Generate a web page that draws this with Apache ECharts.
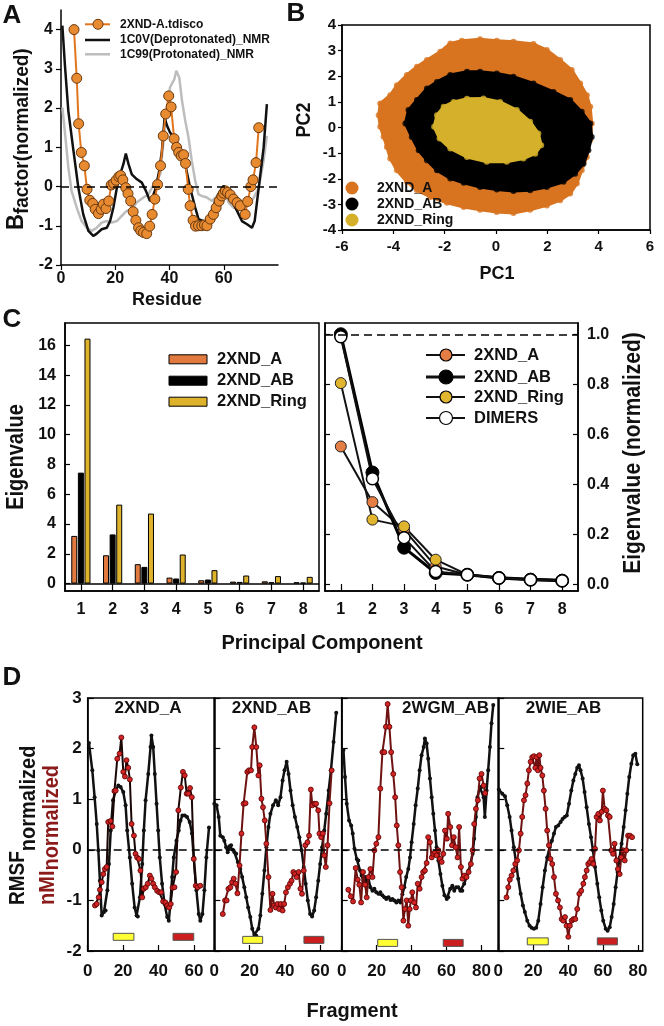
<!DOCTYPE html>
<html><head><meta charset="utf-8">
<script src="https://cdn.jsdelivr.net/npm/echarts@6/dist/echarts.min.js"></script>
<style>html,body{margin:0;padding:0;background:#fff}#c{width:664px;height:1026px}</style>
</head><body><div id="c"></div>
<script>
// ================= DATA =================
// ---- Panel A : normalized B-factor vs residue
const aXTicks = [0, 20, 40, 60];
const aYTicks = [-2, -1, 0, 1, 2, 3, 4];
const aTdisco = [[4.8,4.0],[5.8,2.76],[6.5,1.6],[7.5,0.87],[8.6,0.53],[9.6,-0.07],[10.6,-0.35],[11.7,-0.43],[12.6,-0.58],[13.8,-0.69],[14.8,-0.58],[15.6,-0.45],[16.6,-0.56],[17.6,-0.37],[18.5,0.04],[19.4,0.08],[20.3,0.16],[21.3,0.25],[22,0.28],[22.8,0.17],[23.9,-0.03],[24.7,-0.18],[25.7,-0.37],[26.6,-0.64],[27.6,-0.86],[28.6,-1.05],[29.4,-1.13],[30.4,-1.17],[31.6,-1.2],[32.7,-1.01],[33.6,-0.71],[34.6,-0.32],[35.6,0.05],[36.7,0.53],[37.7,1.29],[38.6,1.85],[39.7,2.31],[40.6,2.03],[41.7,1.22],[42.6,1.0],[43.4,0.87],[44.3,0.78],[45.2,0.81],[45.9,0.59],[46.9,-0.07],[47.6,-0.49],[48.7,-0.86],[49.6,-1.01],[50.7,-1.0],[51.9,-1.0],[52.9,-0.98],[53.8,-1.0],[55,-0.83],[56.2,-0.71],[57.2,-0.54],[58.3,-0.37],[59.3,-0.24],[59.9,-0.17],[60.6,-0.11],[61.4,-0.15],[62.4,-0.21],[63.6,-0.32],[64.9,-0.41],[66.1,-0.49],[67.9,-0.71],[68.8,-0.38],[70,0.0],[70.8,0.17],[71.9,0.61],[72.9,1.5]];
const a1C0V = [[0.5,4.1],[1.5,3.04],[2.7,1.93],[4.6,0.91],[6.4,-0.03],[8.2,-0.71],[10.1,-1.13],[11.9,-1.26],[13.2,-1.2],[15,-1.09],[16.9,-1.05],[18.1,-0.88],[19.3,-0.54],[20.6,-0.03],[21.8,0.31],[23,0.57],[23.9,0.84],[24.9,0.57],[26.1,0.31],[27.9,0.19],[29.8,0.1],[31.3,-0.11],[32.8,-0.37],[33.7,-0.28],[35,-0.03],[36.2,0.4],[37.2,0.91],[38.2,1.76],[39.1,1.55],[40.2,1.38],[42.1,1.21],[43.9,0.95],[45.8,0.57],[47.6,-0.03],[49.5,-0.54],[50.7,-0.83],[52.6,-0.88],[53.8,-0.96],[55,-0.71],[56.9,-0.37],[58.7,-0.11],[60,0.02],[61.2,-0.11],[63,-0.37],[64.9,-0.62],[66.7,-0.88],[68.6,-0.96],[70.4,-1.05],[71.4,-0.88],[72.9,-0.03],[74.7,0.99],[75.9,2.1]];
const a1C99 = [[0.5,2.02],[1.5,1.34],[2.7,0.49],[3.9,-0.11],[5.8,-0.54],[7.6,-0.88],[9.5,-1.05],[11.3,-1.13],[13.2,-1.05],[15,-0.92],[16.9,-0.88],[18.7,-0.92],[20.6,-0.88],[22.4,-0.75],[24.2,-0.62],[26.1,-0.58],[27.9,-0.41],[30.4,-0.28],[32.2,-0.2],[33.5,-0.03],[34.7,0.1],[36.6,0.31],[37.8,1.17],[39,1.93],[40.2,2.53],[41.8,2.74],[42.5,2.95],[43.6,2.78],[44.6,2.19],[45.8,1.68],[47,1.25],[48.2,0.66],[49.5,0.14],[50.7,-0.2],[51.9,-0.24],[53.8,-0.28],[55.6,-0.37],[57.5,-0.24],[59.3,-0.11],[60.6,-0.2],[61.8,-0.41],[63.6,-0.54],[65.5,-0.54],[67.4,-0.58],[69.2,-0.45],[71.1,-0.28],[72.9,-0.03],[74.7,0.66],[75.9,1.29]];
const aLegend = ['2XND-A.tdisco', '1C0V(Deprotonated)_NMR', '1C99(Protonated)_NMR'];

// ---- Panel B : PC1/PC2 projection clouds (outline points)
const bLegend = ['2XND_A', '2XND_AB', '2XND_Ring'];
const bCloudA = [[-4.57,0.48],[-4.51,0.94],[-4.12,1.26],[-3.86,1.65],[-3.47,2.05],[-3.08,2.37],[-2.69,2.63],[-2.17,2.96],[-1.78,3.28],[-1.33,3.39],[-0.62,3.44],[0.03,3.39],[0.68,3.35],[1.46,3.26],[1.98,3.02],[2.5,2.63],[2.95,2.24],[3.28,1.72],[3.54,1.26],[3.67,0.81],[3.73,0.16],[3.67,-0.5],[3.54,-1.15],[3.34,-1.67],[3.15,-2.19],[2.89,-2.58],[2.5,-2.84],[1.98,-3.04],[1.33,-3.21],[0.68,-3.34],[0.03,-3.3],[-0.62,-3.21],[-1.26,-3.1],[-1.91,-2.94],[-2.56,-2.71],[-3.08,-2.45],[-3.47,-2.12],[-3.86,-1.67],[-4.12,-1.21],[-4.25,-0.76],[-4.38,-0.36],[-4.51,0.03]];
const bCloudAB = [[-3.53,0.16],[-3.41,0.68],[-3.08,1.07],[-2.69,1.52],[-2.3,1.78],[-1.78,2.05],[-1.13,2.18],[-0.62,2.18],[0.03,2.11],[0.68,1.98],[1.46,1.72],[2.24,1.39],[2.89,1.07],[3.34,0.61],[3.67,0.16],[3.73,-0.37],[3.6,-0.89],[3.41,-1.41],[3.08,-1.8],[2.63,-2.12],[1.98,-2.32],[1.33,-2.45],[0.68,-2.48],[0.03,-2.42],[-0.62,-2.32],[-1.26,-2.16],[-1.78,-1.99],[-2.3,-1.67],[-2.69,-1.28],[-3.01,-0.89],[-3.28,-0.37]];
const bCloudRing = [[-2.41,0.03],[-2.3,0.48],[-2.04,0.81],[-1.65,1.0],[-1.13,1.12],[-0.49,1.13],[0.16,1.0],[0.81,0.68],[1.33,0.22],[1.65,-0.23],[1.76,-0.69],[1.53,-1.02],[1.07,-1.21],[0.42,-1.34],[-0.36,-1.34],[-1.13,-1.15],[-1.78,-0.82],[-2.2,-0.43]];

// ---- Panel C : eigenvalues per principal component
const pcCategories = ['1','2','3','4','5','6','7','8'];
const cLegend = ['2XND_A', '2XND_AB', '2XND_Ring'];
const cEigA    = [3.2, 1.9, 1.3, 0.4, 0.22, 0.13, 0.15, 0.09];
const cEigAB   = [7.45, 3.3, 1.12, 0.34, 0.27, 0.11, 0.09, 0.07];
const cEigRing = [16.45, 5.3, 4.7, 1.95, 0.9, 0.54, 0.5, 0.45];
const cEigTicks = [0, 2, 4, 6, 8, 10, 12, 14, 16];
const cNormLegend = ['2XND_A', '2XND_AB', '2XND_Ring', 'DIMERS'];
const cNormA      = [0.552, 0.33, 0.22, 0.073, 0.04, 0.027, 0.022, 0.018];
const cNormAB     = [1.0, 0.448, 0.148, 0.047, 0.04, 0.027, 0.02, 0.016];
const cNormRing   = [0.805, 0.26, 0.233, 0.1, 0.04, 0.03, 0.024, 0.02];
const cNormDimers = [0.99, 0.423, 0.188, 0.053, 0.04, 0.027, 0.02, 0.016];
const cNormTicks = [0, 0.2, 0.4, 0.6, 0.8, 1.0];

// ---- Panel D : RMSF and nMI per fragment
const dTitles = ['2XND_A', '2XND_AB', '2WGM_AB', '2WIE_AB'];
const dXTicks = [[0,20,40,60],[0,20,40,60],[0,20,40,60,80],[0,20,40,60,80]];
const dYTicks = [-2, -1, 0, 1, 2, 3];
const dRmsf1 = [[0.7,2.11],[2.6,1.57],[3.9,1.04],[5.1,0.51],[6,-0.01],[6.9,-0.61],[7.9,-1.3],[9.2,-1.23],[10.1,-1.2],[11.1,-0.8],[12,-0.28],[13,0.38],[14.3,0.98],[15.8,1.17],[17.3,1.27],[18.6,1.24],[20.1,1.14],[21.4,0.88],[22.3,0.38],[23.8,-0.15],[25.1,-0.67],[26.5,-1.14],[27.6,-1.3],[28.3,-1.32],[29.5,-0.94],[30.8,-0.28],[31.7,0.38],[32.7,0.98],[34.2,1.5],[35.5,2.03],[36,2.26],[37,2.03],[37.9,1.5],[38.9,0.91],[39.8,0.38],[40.7,-0.15],[42,-0.67],[43.4,-1.07],[44.9,-1.33],[45.8,-1.4],[46.7,-1.07],[47.7,-0.54],[48.6,-0.15],[50.1,0.18],[51.4,0.38],[52.4,0.58],[53.5,0.68],[54.8,0.68],[56.1,0.65],[57.6,0.55],[58.9,0.32],[59.9,-0.15],[61.4,-0.8],[62.7,-1.27],[63.6,-1.4],[64.8,-1.27],[65.9,-0.8],[67,-0.15],[68.5,0.44]];
const dNmi1 = [[4.1,-1.1],[5.1,-1.07],[6.2,-0.94],[6.9,-0.79],[7.9,-0.64],[8.8,-0.48],[9.7,-0.38],[10.7,-0.34],[11.6,0.55],[12.9,0.57],[13.9,0.46],[15.1,1.16],[15.8,1.17],[16.7,1.8],[18,1.9],[19,2.22],[20.1,1.54],[21,1.45],[21.9,1.77],[22.9,1.62],[23.8,1.39],[24.8,0.51],[26.1,0.28],[27,-0.08],[27.9,-0.15],[28.9,-0.18],[29.8,-0.41],[30.8,-0.94],[31.7,-0.77],[32.8,-0.74],[33.9,-0.67],[35.1,-0.51],[36,-0.57],[37,-0.67],[37.9,-0.74],[39.2,-0.81],[40.4,-0.84],[41.5,-0.84],[42.6,-1.02],[43.9,-1.04],[44.9,-1.1],[46,-1.14],[46.9,-1.07],[47.9,-0.75],[49,-0.74],[49.9,-0.44],[51.2,0.78],[52.6,1.23],[53.8,1.54],[54.8,1.47],[55.9,1.11],[56.8,1.11],[57.8,1.22],[58.8,1.04],[59.9,-0.18],[61,-0.71],[62.1,-0.74],[63.6,-0.71]];
const dRmsf2 = [[0,0.91],[1.3,0.88],[2.5,0.65],[3.4,0.28],[4.8,0.25],[5.7,0.18],[6.7,0.05],[7.6,-0.05],[8.6,0.07],[9.5,0.09],[10.5,0],[11.4,-0.05],[12.4,-0.08],[13.3,-0.24],[14.7,-0.38],[15.8,-0.54],[17,-0.74],[18.1,-0.94],[19.2,-1.14],[20.4,-1.33],[21.5,-1.56],[22.7,-1.68],[23.8,-1.7],[25,-1.56],[26.1,-1.3],[27.2,-0.87],[28.4,-0.41],[29.5,0.05],[30.7,0.45],[31.8,0.71],[33.3,0.88],[34.9,0.98],[36.2,0.88],[37.5,1.04],[38.7,1.37],[39.8,1.57],[41,1.74],[42.1,1.5],[43.2,1.17],[44.4,0.88],[45.7,0.65],[47,0.45],[48.2,0.25],[49.5,-0.01],[50.7,-0.34],[51.8,-0.67],[53,-1.0],[54.3,-1.27],[55.4,-1.32],[56.6,-1.2],[57.7,-0.94],[58.9,-0.61],[60,-0.28],[61.1,0.05],[62.3,0.38],[63.4,0.71],[64.8,1.17],[66.1,1.57],[67.6,2.13],[69.1,2.71]];
const dNmi2 = [[4.8,-1.27],[6.1,-1.0],[7,-1.0],[8,-0.77],[9.1,-0.74],[10.1,-0.64],[11,-0.57],[12,-0.67],[13.1,-0.86],[14.3,-0.31],[15.4,0.32],[16.6,0.91],[17.7,0.92],[18.7,1.54],[19.6,1.57],[20.8,1.57],[21.5,2.03],[22.7,2.42],[23.8,2.03],[25,1.47],[25.7,1.67],[26.7,1.01],[27.6,0.84],[28.6,0.58],[29.5,0.12],[30.7,-0.54],[31.8,-1.19],[33,-0.87],[33.9,-1.1],[34.9,-1.14],[35.8,-1.07],[36.8,-1.17],[37.7,-1.07],[38.7,-1.2],[39.6,-1.07],[40.6,-0.84],[41.7,-0.74],[42.9,-0.67],[43.8,-0.61],[44.8,-0.44],[45.7,-0.48],[46.7,-0.54],[47.8,-0.44],[48.8,-0.77],[49.7,-0.87],[50.7,-0.41],[51.6,0.09],[52.8,0.15],[53.7,0.28],[54.7,1.19],[55.6,0.88],[56.8,0.91],[57.7,0.91],[58.9,0.78],[59.6,0.32],[60.6,0.25],[61.5,0.32],[62.3,-0.11],[63.2,-0.34],[64.2,0.09],[65.3,0.92],[66.5,1.57]];
const dRmsf3 = [[1,1.97],[1.9,1.44],[2.9,0.91],[4.2,0.58],[5.4,0.48],[6.3,0.32],[7.3,0.02],[8.6,-0.18],[9.5,-0.21],[10.5,-0.41],[11.4,-0.51],[12.4,-0.61],[13.4,-0.54],[14.3,-0.64],[15.3,-0.57],[16.4,-0.74],[17.6,-0.81],[18.7,-0.77],[19.8,-0.84],[21,-0.87],[22.1,-0.84],[23.3,-0.9],[24.4,-0.94],[25.5,-0.97],[26.8,-0.94],[27.9,-0.99],[29,-0.97],[30.1,-1.0],[31.3,-1.04],[32.4,-1.0],[33.6,-1.04],[34.7,-0.88],[35.8,-0.74],[36.9,-0.54],[38.1,-0.38],[39.1,-0.15],[40,0.15],[41.2,0.51],[42.3,0.88],[43.5,1.21],[44.6,1.57],[45.7,1.87],[46.9,2.03],[47.6,2.2],[48.6,2.1],[49.5,1.8],[50.5,1.41],[51.5,1.04],[52.4,0.71],[53.4,0.38],[54.3,0.05],[55.3,-0.21],[56.5,-0.48],[57.6,-0.71],[58.8,-0.9],[60.1,-0.97],[61,-0.94],[62.1,-0.77],[63.3,-0.71],[64.4,-0.81],[65.5,-0.74],[66.7,-0.74],[67.9,-0.81],[69,-0.81],[70.1,-0.67],[71.4,-0.54],[72.6,-0.41],[73.7,-0.28],[74.9,-0.08],[75.8,0.22],[76.8,0.65],[77.7,1.04],[79,1.24],[80,1.24],[81.2,1.04],[81.9,0.65],[82.9,1.17],[83.8,1.57],[84.8,2.03],[85.7,2.5],[86.7,2.86]];
const dNmi3 = [[3.8,-0.79],[5.2,-0.92],[6.5,-1.02],[8,-0.36],[9.2,-0.59],[10.1,-0.69],[11.1,-1.04],[12.2,-0.44],[13.4,-0.69],[14.3,-0.94],[15.3,-0.54],[16.4,-0.38],[17.6,-0.54],[18.7,-0.01],[19.8,0.12],[21,0.25],[22.1,1.21],[23.3,1.93],[24.4,1.93],[25.3,2.43],[26.3,2.88],[27.3,2.43],[28.3,1.93],[29.5,1.5],[30.6,1.04],[31.5,0.48],[32.4,0.09],[33.4,-0.44],[34.3,-0.74],[35.3,-1.4],[36.2,-1.17],[37.2,-1.0],[38.1,-1.5],[38.9,-1.17],[39.6,-1.0],[40.4,-0.84],[41.5,-1.04],[42.5,-1.14],[43.5,-0.67],[44.6,-0.77],[45.7,-0.54],[46.6,-0.44],[47.6,-0.41],[48.6,-0.26],[49.5,0.25],[50.5,0.15],[51.5,-0.15],[52.4,-0.08],[53.4,-0.05],[54.3,-0.11],[55.3,-0.01],[56.2,-0.18],[57.2,-0.24],[58.1,-0.08],[59.1,0.38],[60.2,0.22],[60.9,0.71],[62.1,0.45],[63.1,0.09],[64.1,0.25],[65.2,0.05],[66.3,-0.15],[67.2,0.45],[68.2,-0.34],[69.1,-0.57],[70.1,-0.51],[71.4,-0.54],[72.6,-0.44],[73.9,-0.28],[74.9,-0.01],[75.8,0.51],[76.8,0.81],[77.9,0.98],[78.9,1.41],[80,1.5],[81.2,1.27],[82.1,1.12]];
const dRmsf4 = [[0.3,1.19],[2.3,1.11],[3.8,1.06],[5.1,0.88],[6.5,0.65],[7.6,0.38],[8.9,0.05],[10.3,-0.28],[11.4,-0.57],[12.8,-0.87],[14.1,-1.1],[15.2,-1.23],[16.6,-1.4],[17.9,-1.5],[19.1,-1.54],[20.4,-1.56],[21.7,-1.54],[22.9,-1.4],[24.2,-1.07],[25.4,-0.74],[26.7,-0.41],[28,-0.15],[29.4,0.05],[30.7,0.18],[31.9,0.32],[33,0.45],[34.3,0.48],[35.7,0.55],[36.8,0.61],[38,0.65],[39.2,0.68],[40.5,0.91],[41.8,1.17],[43,1.37],[44.1,1.5],[45.2,1.62],[46.2,1.67],[47.1,1.57],[48.3,1.41],[49.4,1.14],[50.6,0.84],[51.9,0.51],[53.1,0.25],[54.2,-0.01],[55.4,-0.34],[56.7,-0.67],[57.8,-0.94],[59,-1.2],[60.1,-1.4],[61.5,-1.56],[62.6,-1.6],[63.8,-1.53],[64.9,-1.33],[66.1,-1.07],[67.2,-0.74],[68.3,-0.44],[69.5,-0.15],[70.6,0.12],[71.8,0.45],[72.9,0.78],[73.9,1.11],[75,1.44],[76.2,1.7],[77.3,1.87],[78.5,1.9],[79.6,1.69]];
const dNmi4 = [[4.7,-0.94],[5.7,-0.74],[6.6,-0.59],[7.6,-0.51],[8.6,-0.41],[9.7,-0.28],[10.8,-0.21],[11.8,-0.01],[12.8,0.32],[13.7,0.65],[14.7,0.98],[15.6,1.08],[16.6,1.31],[17.5,1.57],[18.5,1.74],[19.4,1.83],[20.4,1.85],[21.2,1.62],[21.9,1.83],[22.7,1.57],[23.5,1.87],[24.2,1.62],[25.2,1.47],[26.1,1.17],[27.1,0.81],[28,0.38],[29,0.09],[29.9,-0.18],[30.9,-0.28],[31.9,-0.54],[33,-0.87],[34.2,-1.0],[35.3,-1.14],[36.3,-1.37],[37.2,-1.4],[38.2,-1.33],[39.1,-1.5],[40.1,-1.72],[41,-1.5],[42,-1.4],[43,-1.37],[44.1,-1.37],[45.2,-1.17],[46.4,-0.87],[47.5,-0.81],[48.7,-0.67],[49.6,-0.54],[50.6,-0.41],[51.5,-0.28],[52.5,-0.24],[53.4,-0.18],[54.4,-0.28],[55.4,0.02],[56.3,0.65],[57.3,0.71],[58.2,0.58],[59.2,0.75],[59.9,1.17],[60.9,0.81],[61.9,0.78],[62.8,0.68],[63.8,0.65],[64.7,-0.01],[65.7,-0.08],[66.6,0.12],[67.6,-0.21],[68.5,-0.38],[69.5,-0.48],[70.4,-0.15],[71.4,-0.01],[72.4,-0.21],[73.3,-0.01],[74.3,0.28],[75.4,0.28],[76.6,0.25]];
// fragment ranges marked by the coloured boxes: [start, end, level]
const dYellowBars = [[14.4,26.1,-1.72],[16.1,27.4,-1.78],[20.6,32.0,-1.84],[16.6,28.6,-1.81]];
const dRedBars    = [[48.2,59.9,-1.72],[50.8,62.1,-1.78],[58.1,69.5,-1.84],[56.7,68.2,-1.81]];

// ================= CHART =================
const FF = '"Liberation Sans", Arial, Helvetica, sans-serif';
const TXT = '#111';
const chart = echarts.init(document.getElementById('c'), null, {renderer: 'canvas', width: 664, height: 1026});
const lbl = (size, extra) => Object.assign({fontSize: size, fontWeight: 'bold', fontFamily: FF, color: TXT}, extra || {});
const AX = {show: true, onZero: false, lineStyle: {color: '#000', width: 1.5}};
const TK = (extra) => Object.assign({show: true, lineStyle: {color: '#000', width: 1.2}}, extra || {});
const NOSPLIT = {show: false};
const dashed0 = (v) => ({silent: true, symbol: ['none', 'none'], label: {show: false}, animation: false,
  lineStyle: {color: '#000', type: [8, 5], width: 1.5}, data: [{yAxis: v}]});
const solid0 = {silent: true, symbol: ['none', 'none'], label: {show: false}, animation: false,
  lineStyle: {color: '#000', type: 'solid', width: 1.5}, data: [{yAxis: 0}]};
const BOX = {show: true, borderColor: '#000', borderWidth: 1.5, backgroundColor: 'transparent'};

const dGrid = [
  {left: 87.7, width: 126.6, max: 71.5},
  {left: 214.3, width: 127.4, max: 72.2},
  {left: 341.7, width: 156.6, max: 89.6},
  {left: 498.3, width: 144.4, max: 82.7}
];
const dRmsf = [dRmsf1, dRmsf2, dRmsf3, dRmsf4];
const dNmi = [dNmi1, dNmi2, dNmi3, dNmi4];

const grids = [
  {left: 61, top: 10, width: 217, height: 255},
  Object.assign({left: 342, top: 25, width: 308, height: 205}, BOX),
  Object.assign({left: 65, top: 323, width: 254, height: 268}, BOX),
  Object.assign({left: 325, top: 323, width: 253, height: 268}, BOX)
];
dGrid.forEach(g => grids.push(Object.assign({left: g.left, width: g.width, top: 698, height: 253}, BOX)));

const xAxes = [
  {gridIndex: 0, type: 'value', min: 0, max: 80, axisLine: AX, splitLine: NOSPLIT,
    axisTick: TK({customValues: aXTicks, length: 5}), axisLabel: lbl(16, {customValues: aXTicks, margin: 6})},
  {gridIndex: 1, type: 'value', min: -6, max: 6, interval: 2, axisLine: AX, splitLine: NOSPLIT,
    axisTick: TK({length: 4}), axisLabel: lbl(15, {margin: 9})},
  {gridIndex: 2, type: 'category', data: pcCategories, boundaryGap: true, axisLine: AX,
    axisTick: TK({alignWithLabel: true, inside: true, length: 7}), axisLabel: lbl(16, {margin: 11})},
  {gridIndex: 3, type: 'category', data: pcCategories, boundaryGap: true, axisLine: AX,
    axisTick: TK({alignWithLabel: true, inside: true, length: 7}), axisLabel: lbl(16, {margin: 11})}
];
dGrid.forEach((g, i) => xAxes.push({gridIndex: 4 + i, type: 'value', min: 0, max: g.max, axisLine: AX, splitLine: NOSPLIT,
  axisTick: TK({customValues: dXTicks[i], inside: true, length: 6}), axisLabel: lbl(17, {customValues: dXTicks[i], margin: 12})}));

const yAxes = [
  {gridIndex: 0, type: 'value', min: -2, max: 4.5, axisLine: AX, splitLine: NOSPLIT,
    axisTick: TK({customValues: aYTicks, length: 5}), axisLabel: lbl(16, {customValues: aYTicks, margin: 8})},
  {gridIndex: 1, type: 'value', min: -4, max: 4, interval: 1, axisLine: AX, splitLine: NOSPLIT,
    axisTick: TK({length: 4}), axisLabel: lbl(15, {margin: 6})},
  {gridIndex: 2, type: 'value', min: -0.5, max: 17.5, axisLine: AX, splitLine: NOSPLIT,
    axisTick: TK({customValues: cEigTicks, inside: true, length: 5}), axisLabel: lbl(16, {customValues: cEigTicks, margin: 9})},
  {gridIndex: 3, type: 'value', position: 'right', min: -0.025, max: 1.045, axisLine: AX, splitLine: NOSPLIT,
    axisTick: TK({customValues: cNormTicks, inside: true, length: 5}),
    axisLabel: lbl(16, {customValues: cNormTicks, margin: 9, formatter: v => Number(v).toFixed(1)})},
  {gridIndex: 3, type: 'value', position: 'left', min: -0.025, max: 1.045, axisLine: AX, splitLine: NOSPLIT,
    axisTick: TK({customValues: cNormTicks, inside: true, length: 5}), axisLabel: {show: false}}
];
dGrid.forEach((g, i) => yAxes.push({gridIndex: 4 + i, type: 'value', min: -2, max: 3, axisLine: AX, splitLine: NOSPLIT,
  axisTick: TK({customValues: dYTicks, inside: true, length: 6}),
  axisLabel: lbl(17, {show: i === 0, customValues: dYTicks, margin: 6})}));

// polygon renderer for PCA clouds
const cloud = (pts, color, z) => ({
  type: 'custom', xAxisIndex: 1, yAxisIndex: 1, data: pts, z: z, silent: true,
  encode: {x: 0, y: 1},
  renderItem: (params, api) => {
    if (params.dataIndex !== 0) return null;
    return {type: 'polygon', shape: {points: pts.map(p => api.coord(p))}, style: {fill: color, stroke: color, lineWidth: 3}};
  }
});
const cloudEdge = (pts, color, z) => ({type: 'scatter', xAxisIndex: 1, yAxisIndex: 1, data: pts, z: z, silent: true,
  symbolSize: 6, itemStyle: {color: color}});
const fragBar = (bars, i, color) => ({
  type: 'custom', xAxisIndex: 4 + i, yAxisIndex: 5 + i, data: [bars[i]], silent: true, z: 5,
  encode: {x: [0, 1], y: 2},
  renderItem: (params, api) => {
    const p0 = api.coord([api.value(0), api.value(2)]);
    const p1 = api.coord([api.value(1), api.value(2)]);
    return {type: 'rect', shape: {x: p0[0], y: p0[1] - 3.5, width: p1[0] - p0[0], height: 7},
      style: {fill: color, stroke: '#555', lineWidth: 1}};
  }
});

const ORANGE_B = '#D8731F', GOLD_B = '#D5B02B';
const series = [
  // Panel A
  {type: 'line', xAxisIndex: 0, yAxisIndex: 0, data: a1C99, symbol: 'none', lineStyle: {color: '#BDBDBD', width: 2.5}, markLine: dashed0(0)},
  {type: 'line', xAxisIndex: 0, yAxisIndex: 0, data: a1C0V, symbol: 'none', lineStyle: {color: '#111', width: 2.5}},
  {type: 'line', xAxisIndex: 0, yAxisIndex: 0, data: aTdisco, symbol: 'circle', symbolSize: 10,
    lineStyle: {color: '#E2761E', width: 2}, itemStyle: {color: '#E88A30', borderColor: '#6a3a10', borderWidth: 1}},
  // Panel B
  cloudEdge(bCloudA, ORANGE_B, 2), cloud(bCloudA, ORANGE_B, 3),
  cloudEdge(bCloudAB, '#000', 4), cloud(bCloudAB, '#000', 5),
  cloudEdge(bCloudRing, GOLD_B, 6), cloud(bCloudRing, GOLD_B, 7),
  // Panel C left
  {type: 'bar', xAxisIndex: 2, yAxisIndex: 2, data: cEigA, barWidth: 6, barGap: '10%',
    itemStyle: {color: '#E27A3F', borderColor: '#000', borderWidth: 1}, markLine: solid0},
  {type: 'bar', xAxisIndex: 2, yAxisIndex: 2, data: cEigAB, barWidth: 6, barGap: '10%',
    itemStyle: {color: '#000', borderColor: '#000', borderWidth: 1}},
  {type: 'bar', xAxisIndex: 2, yAxisIndex: 2, data: cEigRing, barWidth: 6, barGap: '10%',
    itemStyle: {color: '#DFB22B', borderColor: '#000', borderWidth: 1}},
  // Panel C right
  {type: 'line', xAxisIndex: 3, yAxisIndex: 3, data: cNormA, symbol: 'circle', symbolSize: 11,
    lineStyle: {color: '#111', width: 2}, itemStyle: {color: '#E47E45', borderColor: '#222', borderWidth: 1}, markLine: dashed0(1)},
  {type: 'line', xAxisIndex: 3, yAxisIndex: 3, data: cNormRing, symbol: 'circle', symbolSize: 11,
    lineStyle: {color: '#111', width: 2}, itemStyle: {color: '#E2B52E', borderColor: '#222', borderWidth: 1}},
  {type: 'line', xAxisIndex: 3, yAxisIndex: 3, data: cNormAB, symbol: 'circle', symbolSize: 13,
    lineStyle: {color: '#000', width: 3}, itemStyle: {color: '#000', borderColor: '#000', borderWidth: 1}},
  {type: 'line', xAxisIndex: 3, yAxisIndex: 3, data: cNormDimers, symbol: 'circle', symbolSize: 12,
    lineStyle: {color: '#111', width: 2}, itemStyle: {color: '#fff', borderColor: '#000', borderWidth: 1.5}}
];
dGrid.forEach((g, i) => {
  series.push({type: 'line', xAxisIndex: 4 + i, yAxisIndex: 5 + i, data: dRmsf[i], symbol: 'circle', symbolSize: 4,
    lineStyle: {color: '#111', width: 2.5}, itemStyle: {color: '#111'}, markLine: dashed0(0), z: 3});
  series.push({type: 'line', xAxisIndex: 4 + i, yAxisIndex: 5 + i, data: dNmi[i], symbol: 'circle', symbolSize: 5,
    lineStyle: {color: i === 0 ? '#1a0606' : '#6e1212', width: 2}, itemStyle: {color: '#D22424', borderColor: '#560000', borderWidth: 0.8}, z: 4});
  series.push(fragBar(dYellowBars, i, '#FFFF33'));
  series.push(fragBar(dRedBars, i, '#CC1E1E'));
});

// ---------- texts / legends (graphic) ----------
const mctx = document.createElement('canvas').getContext('2d');
const tw = (t, size) => { mctx.font = 'bold ' + size + 'px ' + FF; return mctx.measureText(t).width; };
const T = (text, x, y, size, opts) => Object.assign({type: 'text', x: x, y: y, z: 100, silent: true,
  style: Object.assign({text: text, fontSize: size, fontWeight: 'bold', fontFamily: FF, fill: TXT, align: 'center', verticalAlign: 'middle'}, (opts && opts.style) || {})},
  opts && opts.el ? opts.el : {});
const VT = (text, x, yBottom, size, color, scaleY) => ({type: 'text', x: x, y: yBottom, rotation: Math.PI / 2, scaleY: scaleY || 1, z: 100, silent: true,
  style: {text: text, fontSize: size, fontWeight: 'bold', fontFamily: FF, fill: color || TXT, align: 'left', verticalAlign: 'middle'}});
const VC = (text, x, yCenter, size, scaleY) => VT(text, x, yCenter + tw(text, size) / 2, size, TXT, scaleY);

const graphics = [];
// panel letters
graphics.push(T('A', 12, 16, 26), T('B', 296, 14, 26), T('C', 12, 320, 26), T('D', 12, 678, 26));
// axis titles
graphics.push(T('Residue', 167, 300, 18), T('PC1', 497, 274, 18), VC('PC2', 305, 120, 18, 1.1));
graphics.push(VC('Eigenvalue', 17, 457, 20, 1.15), VC('Eigenvalue (normalized)', 634, 453, 21, 1.1));
graphics.push(T('Principal Component', 322, 643, 20), T('Fragment', 352, 1011, 20));
// A y title: B_factor(normalized)
graphics.push(VT('B', 16.5, 230, 22, TXT, 1.1), VT('factor(normalized)', 22, 230 - tw('B', 22), 19, TXT, 1.1));
// D y title: RMSF_normalized / nMI_normalized
graphics.push(VT('RMSF', 18, 905, 19, TXT, 1.15), VT('normalized', 29, 905 - tw('RMSF', 19), 20, TXT, 1.1));
graphics.push(VT('nMI', 48, 905, 20, '#8B1A1A', 1.1), VT('normalized', 51.5, 905 - tw('nMI', 20), 20, '#8B1A1A', 1.1));
// D titles
graphics.push(T(dTitles[0], 148, 708, 17), T(dTitles[1], 271.5, 708, 17), T(dTitles[2], 445.5, 708, 17), T(dTitles[3], 563.5, 708, 17));
// A legend
const aLegY = [24.3, 40, 54.3];
graphics.push({type: 'line', z: 100, shape: {x1: 85, y1: aLegY[0], x2: 110, y2: aLegY[0]}, style: {stroke: '#E2761E', lineWidth: 2}});
graphics.push({type: 'circle', z: 101, shape: {cx: 98, cy: aLegY[0], r: 5}, style: {fill: '#E88A30', stroke: '#6a3a10', lineWidth: 1}});
graphics.push({type: 'line', z: 100, shape: {x1: 85, y1: aLegY[1], x2: 110, y2: aLegY[1]}, style: {stroke: '#111', lineWidth: 2.5}});
graphics.push({type: 'line', z: 100, shape: {x1: 85, y1: aLegY[2], x2: 110, y2: aLegY[2]}, style: {stroke: '#BDBDBD', lineWidth: 2.5}});
aLegend.forEach((t, i) => graphics.push(T(t, 120, aLegY[i], 12, {style: {align: 'left'}})));
// B legend
const bLegY = [188, 204, 220], bCol = [ORANGE_B, '#000', GOLD_B];
bLegend.forEach((t, i) => {
  graphics.push({type: 'circle', z: 100, shape: {cx: 352, cy: bLegY[i], r: 6.5}, style: {fill: bCol[i]}});
  graphics.push(T(t, 377, bLegY[i], 14, {style: {align: 'left'}}));
});
// C left legend
const cLegY = [359.3, 380.7, 401.7], cCol = ['#E27A3F', '#000', '#DFB22B'];
cLegend.forEach((t, i) => {
  graphics.push({type: 'rect', z: 100, shape: {x: 169, y: cLegY[i] - 4.5, width: 38, height: 9}, style: {fill: cCol[i], stroke: '#000', lineWidth: 1}});
  graphics.push(T(t, 217, cLegY[i], 16.5, {style: {align: 'left'}}));
});
// C right legend
const nLegY = [355, 377, 397, 418], nCol = ['#E47E45', '#000', '#E2B52E', '#fff'], nR = [6, 7, 6, 6.5], nW = [2, 3, 2, 2];
cNormLegend.forEach((t, i) => {
  graphics.push({type: 'line', z: 100, shape: {x1: 426, y1: nLegY[i], x2: 465, y2: nLegY[i]}, style: {stroke: '#111', lineWidth: nW[i]}});
  graphics.push({type: 'circle', z: 101, shape: {cx: 446, cy: nLegY[i], r: nR[i]}, style: {fill: nCol[i], stroke: '#000', lineWidth: 1.2}});
  graphics.push(T(t, 474, nLegY[i], 16.5, {style: {align: 'left'}}));
});

chart.setOption({
  animation: false,
  backgroundColor: '#fff',
  textStyle: {fontFamily: FF},
  grid: grids,
  xAxis: xAxes,
  yAxis: yAxes,
  series: series,
  graphic: {elements: graphics}
});
</script>
</body></html>
